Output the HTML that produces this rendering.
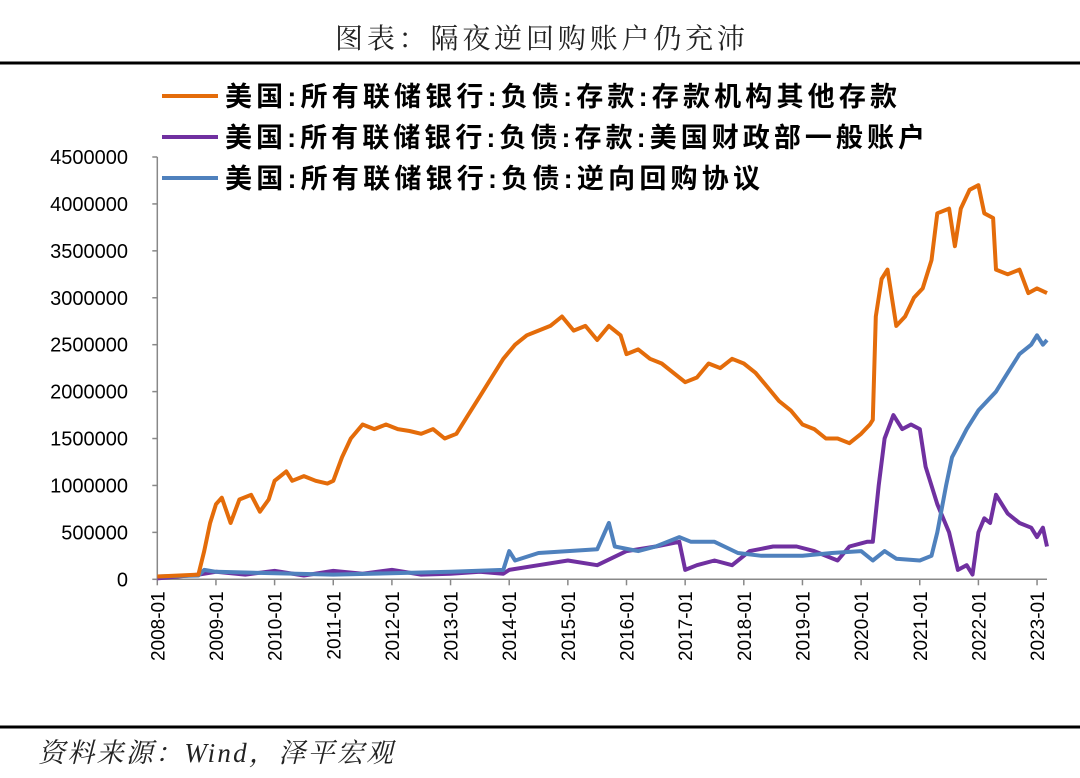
<!DOCTYPE html>
<html><head><meta charset="utf-8"><style>
body{margin:0;background:#fff;}
svg{display:block;}
</style></head><body>
<svg id="chart" width="1080" height="778" viewBox="0 0 1080 778" xmlns="http://www.w3.org/2000/svg">
<text x="540" y="48" text-anchor="middle" font-family="'Liberation Serif','Noto Serif CJK SC',serif" font-size="28" textLength="410" fill="#222">图表：隔夜逆回购账户仍充沛</text>
<line x1="0" y1="63" x2="1080" y2="63" stroke="#000" stroke-width="3"/>
<line x1="0" y1="727" x2="1080" y2="727" stroke="#000" stroke-width="3"/>
<text x="38" y="762" font-family="'Liberation Serif','Noto Serif CJK SC',serif" font-style="italic" font-size="27" textLength="355" fill="#222">资料来源：Wind，泽平宏观</text>
<g id="legend">
<line x1="162" y1="96" x2="218" y2="96" stroke="#E46C0A" stroke-width="4"/>
<text x="225" y="106" font-family="'Liberation Sans','Noto Sans CJK SC',sans-serif" font-weight="bold" font-size="27" textLength="672" fill="#000">美国:所有联储银行:负债:存款:存款机构其他存款</text>
<line x1="162" y1="137" x2="218" y2="137" stroke="#7030A0" stroke-width="4"/>
<text x="225" y="147" font-family="'Liberation Sans','Noto Sans CJK SC',sans-serif" font-weight="bold" font-size="27" textLength="700" fill="#000">美国:所有联储银行:负债:存款:美国财政部一般账户</text>
<line x1="162" y1="178" x2="218" y2="178" stroke="#4F81BD" stroke-width="4"/>
<text x="225" y="188" font-family="'Liberation Sans','Noto Sans CJK SC',sans-serif" font-weight="bold" font-size="27" textLength="535" fill="#000">美国:所有联储银行:负债:逆向回购协议</text>
</g>
<g id="axes"></g>
<g id="series"></g>
</svg>
<script>
const yTicks=[0,500000,1000000,1500000,2000000,2500000,3000000,3500000,4000000,4500000];
const xTickLabels=["2008-01","2009-01","2010-01","2011-01","2012-01","2013-01","2014-01","2015-01","2016-01","2017-01","2018-01","2019-01","2020-01","2021-01","2022-01","2023-01"];
const depTimes=[2008.0,2008.7,2008.8,2008.9,2009.0,2009.1,2009.25,2009.4,2009.6,2009.75,2009.9,2010.0,2010.2,2010.3,2010.5,2010.7,2010.9,2011.0,2011.15,2011.3,2011.5,2011.7,2011.9,2012.1,2012.3,2012.5,2012.7,2012.9,2013.1,2013.3,2013.5,2013.7,2013.9,2014.1,2014.3,2014.5,2014.7,2014.9,2015.1,2015.3,2015.5,2015.7,2015.9,2016.0,2016.2,2016.4,2016.6,2016.8,2017.0,2017.2,2017.4,2017.6,2017.8,2018.0,2018.2,2018.4,2018.6,2018.8,2019.0,2019.2,2019.4,2019.6,2019.8,2020.0,2020.15,2020.2,2020.25,2020.35,2020.45,2020.6,2020.75,2020.9,2021.05,2021.2,2021.3,2021.5,2021.6,2021.7,2021.85,2022.0,2022.1,2022.25,2022.3,2022.5,2022.7,2022.85,2023.0,2023.17];
const depValues=[30000,50000,300000,600000,800000,870000,600000,850000,900000,720000,850000,1050000,1150000,1050000,1100000,1050000,1020000,1050000,1300000,1500000,1650000,1600000,1650000,1600000,1580000,1550000,1600000,1500000,1550000,1750000,1950000,2150000,2350000,2500000,2600000,2650000,2700000,2800000,2650000,2700000,2550000,2700000,2600000,2400000,2450000,2350000,2300000,2200000,2100000,2150000,2300000,2250000,2350000,2300000,2200000,2050000,1900000,1800000,1650000,1600000,1500000,1500000,1450000,1550000,1650000,1700000,2800000,3200000,3300000,2700000,2800000,3000000,3100000,3400000,3900000,3950000,3550000,3950000,4150000,4200000,3900000,3850000,3300000,3250000,3300000,3050000,3100000,3050000];
const tgaTimes=[2008.0,2008.7,2009.0,2009.5,2010.0,2010.5,2011.0,2011.5,2012.0,2012.5,2013.0,2013.5,2013.9,2014.0,2014.5,2015.0,2015.5,2016.0,2016.5,2016.9,2017.0,2017.2,2017.5,2017.8,2018.1,2018.5,2018.9,2019.2,2019.6,2019.8,2020.1,2020.2,2020.3,2020.4,2020.55,2020.7,2020.85,2021.0,2021.1,2021.3,2021.5,2021.65,2021.8,2021.9,2022.0,2022.1,2022.2,2022.3,2022.5,2022.7,2022.9,2023.0,2023.1,2023.17];
const tgaValues=[10000,50000,80000,50000,90000,40000,90000,60000,100000,50000,60000,80000,60000,100000,150000,200000,150000,300000,350000,400000,100000,150000,200000,150000,300000,350000,350000,300000,200000,350000,400000,400000,1000000,1500000,1750000,1600000,1650000,1600000,1200000,800000,500000,100000,150000,50000,500000,650000,600000,900000,700000,600000,550000,450000,550000,350000];
const rrpTimes=[2008.0,2008.7,2008.8,2009.0,2011.0,2013.0,2013.9,2014.0,2014.1,2014.5,2015.0,2015.5,2015.7,2015.8,2016.2,2016.5,2016.9,2017.1,2017.5,2017.9,2018.3,2019.0,2019.5,2020.0,2020.2,2020.4,2020.6,2021.0,2021.2,2021.3,2021.45,2021.55,2021.8,2022.0,2022.3,2022.5,2022.7,2022.9,2023.0,2023.1,2023.17];
const rrpValues=[30000,40000,100000,80000,50000,80000,100000,300000,200000,280000,300000,320000,600000,350000,300000,350000,450000,400000,400000,280000,250000,250000,280000,300000,200000,300000,220000,200000,250000,500000,1000000,1300000,1600000,1800000,2000000,2200000,2400000,2500000,2600000,2500000,2550000];

const X0=157.3, PX_YEAR=58.65, Y0=579.3, PX_PER=422.3/4500000;
function xs(t){return X0+(t-2008)*PX_YEAR;}
function ys(v){return Y0-v*PX_PER;}
const NS="http://www.w3.org/2000/svg";
const axes=document.getElementById('axes');
const series=document.getElementById('series');
function mk(tag,attrs,parent){const e=document.createElementNS(NS,tag);for(const k in attrs)e.setAttribute(k,attrs[k]);parent.appendChild(e);return e;}

const yAxis=mk('line',{x1:X0,y1:ys(4500000),x2:X0,y2:Y0,stroke:'#888','stroke-width':1.5},axes);


const xAxis=mk('line',{x1:X0,y1:Y0,x2:1047,y2:Y0,stroke:'#888','stroke-width':1.5},axes);


yTicks.forEach(v=>{
  const tk=mk('line',{x1:X0-5,y1:ys(v),x2:X0,y2:ys(v),stroke:'#888','stroke-width':1.5},axes);
  
  
  const t=mk('text',{x:128,y:ys(v)+7,'text-anchor':'end','font-family':"'Liberation Sans',sans-serif",'font-size':20,fill:'#000'},axes);
  t.textContent=v;
  
  
});
xTickLabels.forEach((lab,i)=>{
  const x=xs(2008+i);
  const tk=mk('line',{x1:x,y1:Y0,x2:x,y2:Y0+6,stroke:'#888','stroke-width':1.5},axes);
  
  
  const t=mk('text',{x:0,y:0,'text-anchor':'end','font-family':"'Liberation Sans',sans-serif",'font-size':19,fill:'#000',transform:`translate(${x+7},${Y0+12}) rotate(-90)`},axes);
  t.textContent=lab;
  
  
});
function line(times,vals,color,name){
  const d=times.map((t,i)=>(i?'L':'M')+xs(t).toFixed(1)+','+ys(vals[i]).toFixed(1)).join(' ');
  const p=mk('path',{d:d,fill:'none',stroke:color,'stroke-width':4,'stroke-linejoin':'round'},series);
  
  
}
line(tgaTimes,tgaValues,'#7030A0','tga-line');
line(rrpTimes,rrpValues,'#4F81BD','reverse-repo-line');
line(depTimes,depValues,'#E46C0A','other-deposits-line');
</script>
</body></html>
